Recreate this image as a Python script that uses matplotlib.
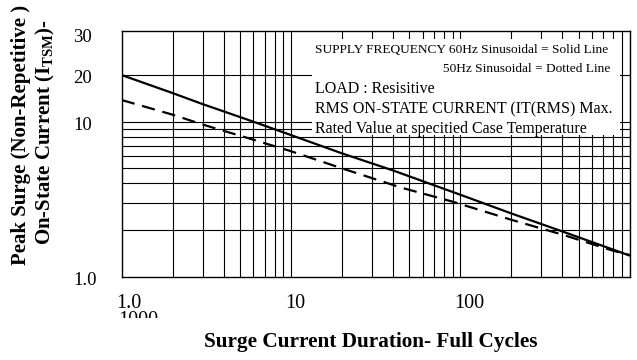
import numpy as np
import matplotlib.pyplot as plt
from matplotlib.patches import Rectangle
from matplotlib.transforms import blended_transform_factory, offset_copy, Bbox

plt.rcParams['font.family'] = 'Liberation Serif'
plt.rcParams['mathtext.fontset'] = 'custom'
plt.rcParams['mathtext.rm'] = 'Liberation Serif:bold'
plt.rcParams['mathtext.default'] = 'rm'

# curvas (ciclos, amperios pico)
ciclos_60 = [1, 2, 3, 6, 10, 20, 40, 100, 200, 400, 1000]
itsm_60 = [20, 15.3, 13.0, 10.0, 8.2, 6.25, 4.85, 3.38, 2.56, 1.96, 1.37]
ciclos_50 = [1, 2, 3, 6, 10, 20, 45, 90, 200, 400, 800, 1000]
itsm_50 = [13.8, 11.1, 9.6, 7.65, 6.45, 5.0, 3.75, 3.05, 2.33, 1.87, 1.47, 1.38]

# rejilla y etiquetas
x_grid = [m * 10 ** k for k in range(3) for m in range(1, 10)][1:] + [1000]
y_grid = [2, 3, 4, 5, 6, 7, 8, 9, 10, 20]
x_tick_vals = [1, 10, 100]
x_tick_labels = ['1.0', '10', '100']
y_tick_vals = [1, 10, 20, 37]
y_tick_labels = ['1.0', '10', '20', '30']

notas = [
    ('SUPPLY FREQUENCY 60Hz Sinusoidal = Solid Line', 'left', 9.6),
    ('50Hz Sinusoidal = Dotted Line', 'right', 9.6),
    ('LOAD : Resisitive', 'left', 11.5),
    ('RMS ON-STATE CURRENT (IT(RMS) Max.', 'left', 11.5),
    ('Rated Value at specitied Case Temperature', 'left', 11.5),
]

fig = plt.figure(figsize=(6.37, 3.6), dpi=100)
ax = fig.add_axes([0.1911, 0.2314, 0.7973, 0.6825])
ax.set_xscale('log')
ax.set_yscale('log')
ax.set_xlim(1, 1000)
ax.set_ylim(1, 38.5)

for xv in x_grid:
    ax.axvline(xv, color='black', lw=0.8, zorder=0.5)
for yv in y_grid:
    ax.axhline(yv, color='black', lw=0.8, zorder=0.5)

ax.set_xticks([])
ax.set_yticks([])
ax.minorticks_off()
for s in ax.spines.values():
    s.set_linewidth(1.0)

# recuadro blanco con las notas
ax.add_patch(Rectangle((13.3, 8.2), 880 - 13.3, 34.2 - 8.2, facecolor='white',
                       edgecolor='none', zorder=1))

ax.plot(ciclos_60, itsm_60, color='black', lw=1.6, zorder=3)
ax.plot(ciclos_50, itsm_50, color='black', lw=1.6, dashes=(6, 3.5), zorder=3)

y_notas = [0.9105, 0.8331, 0.7477, 0.6662, 0.5849]
for (txt, ha, fs), yy in zip(notas, y_notas):
    xx = 0.3806 if ha == 'left' else 0.9614
    ax.text(xx, yy, txt, transform=ax.transAxes, ha=ha, va='baseline',
            fontsize=fs, zorder=4)

# etiquetas de los ejes
tr_x = offset_copy(blended_transform_factory(ax.transData, ax.transAxes),
                   fig=fig, x=-6, y=0, units='dots')
for v, lab in zip(x_tick_vals, x_tick_labels):
    ax.text(v, -0.1274, lab, transform=tr_x, ha='left', va='baseline',
            fontsize=14.5, clip_on=False)

t1000 = ax.text(1, -0.197, '1000', transform=offset_copy(
    blended_transform_factory(ax.transData, ax.transAxes), fig=fig, x=-4,
    y=0, units='dots'), ha='left', va='baseline', fontsize=14.5)
t1000.set_clip_box(Bbox([[0, 42], [637, 360]]))
t1000.set_clip_on(True)

tr_y = offset_copy(blended_transform_factory(ax.transAxes, ax.transData),
                   fig=fig, x=0, y=5, units='dots')
for v, lab in zip(y_tick_vals, y_tick_labels):
    t = ax.text(-0.0959, v, lab, transform=tr_y, ha='left', va='top',
                fontsize=13.5)
    if lab == '1.0':
        t.set_clip_box(Bbox([[0, 73], [637, 360]]))
    t.set_clip_on(lab == '1.0')

fig.text(0.5824, 0.0361, 'Surge Current Duration- Full Cycles',
         ha='center', va='baseline', fontsize=15.3, fontweight='bold')
fig.text(21 / 637, 1 - 135 / 360, 'Peak Surge (Non-Repetitive )', rotation=90,
         ha='center', va='center', fontsize=15, fontweight='bold')
fig.text(45 / 637, 1 - 132 / 360, 'On-State Current (I$_{TSM}$)-', rotation=90,
         ha='center', va='center', fontsize=15, fontweight='bold')

fig.savefig('out.png', dpi=100)
